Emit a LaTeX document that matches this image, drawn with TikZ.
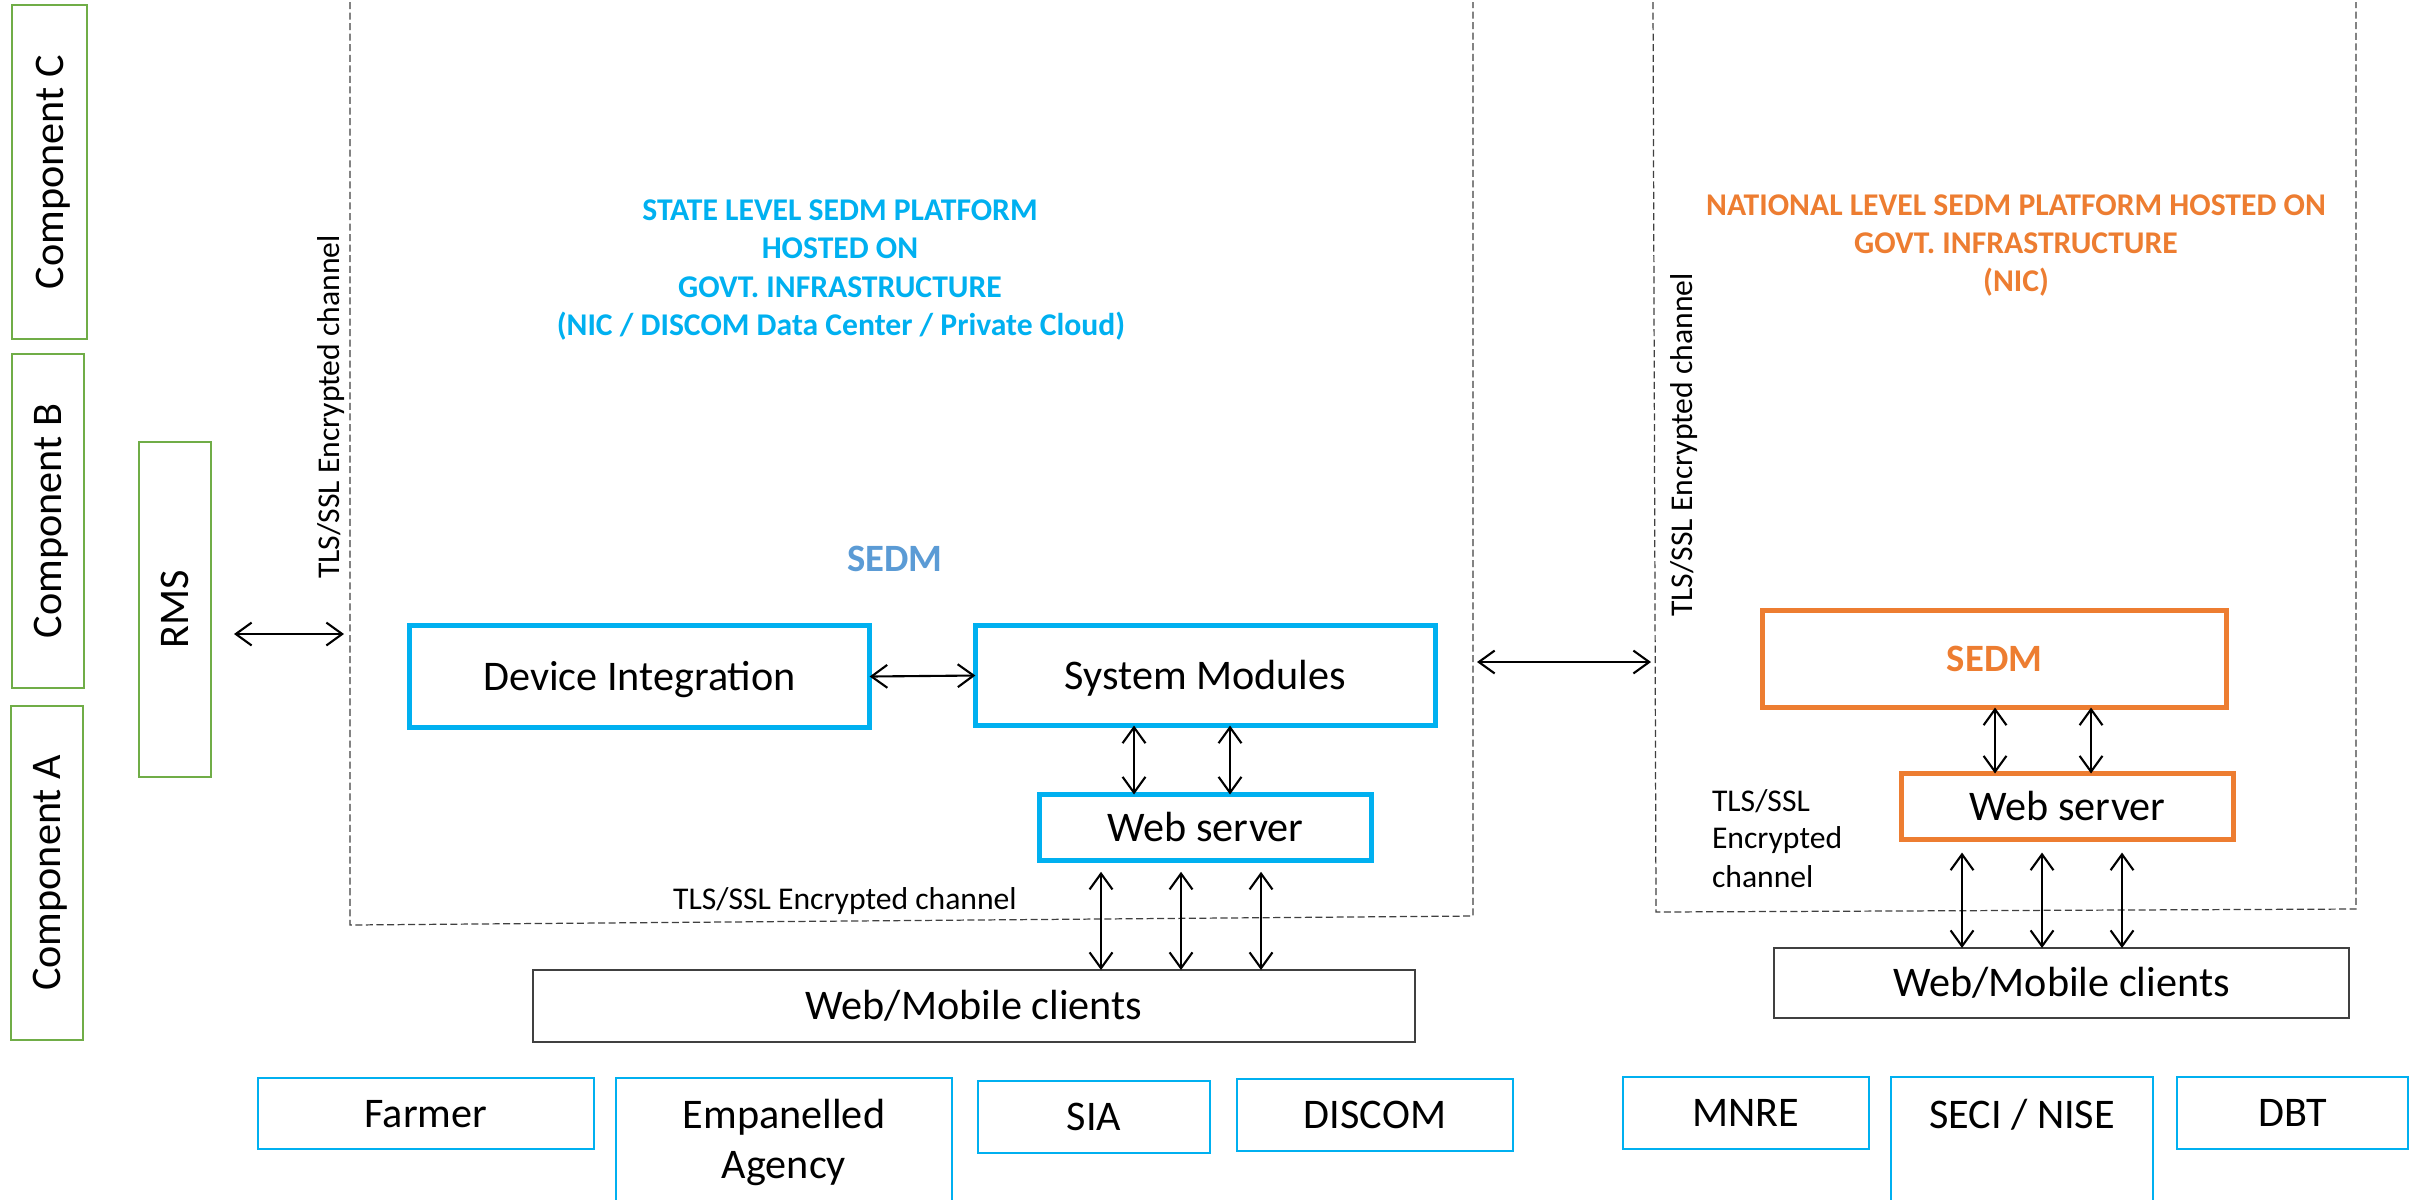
\documentclass[tikz,border=0pt]{standalone}
\usepackage{fontspec}
\setmainfont{Carlito}
\usetikzlibrary{arrows.meta}
\definecolor{cyanb}{HTML}{00B0F0}
\definecolor{orng}{HTML}{ED7D31}
\definecolor{grn}{HTML}{70AD47}
\definecolor{sedmb}{HTML}{5B9BD5}
\definecolor{dgray}{HTML}{404040}
\begin{document}
\begin{tikzpicture}[x=0.01cm,y=-0.01cm,
 every node/.style={inner sep=0pt, outer sep=0pt},
 txt12/.style={font=\fontsize{12}{14.4}\selectfont},
 fs12/.style={font=\fontsize{12}{14.4}\selectfont, text height=7.7pt, text depth=0pt},
 fs9/.style={font=\fontsize{9}{10.8}\selectfont},
 compbox/.style={draw=grn, line width=0.75pt, fs12, rotate=90},
 thickbox/.style={draw=cyanb, line width=1.4pt, fs12},
 obox/.style={draw=orng, line width=1.4pt, fs12},
 thinbox/.style={draw=cyanb, line width=0.6pt, fs12},
 clientbox/.style={draw=dgray, line width=0.6pt, fs12},
 biarrow/.style={line width=0.6pt, {Straight Barb[length=4.5pt,width=6.5pt]}-{Straight Barb[length=4.5pt,width=6.5pt]}},
 zone/.style={draw=black!75, line width=0.35pt, dash pattern=on 2pt off 1pt},
 ttl/.style={font=\fontsize{9}{10.8}\selectfont\bfseries, anchor=base},
]
\useasboundingbox (0,0) rectangle (2425,1199);

% component column
\node[compbox, minimum width=3.34cm, minimum height=0.75cm] (compC) at (49.5,172) {Component C};
\node[compbox, minimum width=3.34cm, minimum height=0.72cm] (compB) at (48,521) {Component B};
\node[compbox, minimum width=3.34cm, minimum height=0.72cm] (compA) at (47,873) {Component A};
\node[compbox, minimum width=3.35cm, minimum height=0.72cm] (rms) at (175,609.5) {RMS};

% zones
\draw[zone] (350,2) -- (350,925) -- (1473,916) -- (1473,2);
\draw[zone] (1653,2) -- (1656,912) -- (2356,909) -- (2356,2);

% state titles
\node[ttl, text=cyanb] (st1) at (840,220) {STATE LEVEL SEDM PLATFORM};
\node[ttl, text=cyanb] (st2) at (840,258) {HOSTED ON};
\node[ttl, text=cyanb] (st3) at (840,297) {GOVT. INFRASTRUCTURE};
\node[ttl, text=cyanb] (st4) at (841,335) {(NIC / DISCOM Data Center / Private Cloud)};
\node[font=\fontsize{11}{13}\selectfont\bfseries, text=sedmb, anchor=base] (sedmL) at (895,571) {SEDM};

% national titles
\node[ttl, text=orng] (nt1) at (2016,215) {NATIONAL LEVEL SEDM PLATFORM HOSTED ON};
\node[ttl, text=orng] (nt2) at (2016,253) {GOVT. INFRASTRUCTURE};
\node[ttl, text=orng] (nt3) at (2016,291) {(NIC)};

% TLS labels
\node[fs9, rotate=90, anchor=base] (tlsL) at (339,407) {TLS/SSL Encrypted channel};
\node[fs9, rotate=90, anchor=base] (tlsR) at (1692,445) {TLS/SSL Encrypted channel};
\node[fs9, anchor=base] (tlsB) at (845,909) {TLS/SSL Encrypted channel};
\node[fs9, anchor=base west] (tlsR1) at (1712,811) {TLS/SSL};
\node[fs9, anchor=base west] (tlsR2) at (1712,848) {Encrypted};
\node[fs9, anchor=base west] (tlsR3) at (1712,887) {channel};

% state boxes
\node[thickbox, minimum width=4.60cm, minimum height=1.02cm] (di) at (639.5,676.5) {Device Integration};
\node[thickbox, minimum width=4.60cm, minimum height=1.00cm] (sm) at (1205.5,675.5) {System Modules};
\node[thickbox, minimum width=3.32cm, minimum height=0.66cm] (ws) at (1205.5,827.5) {Web server};
\node[clientbox, minimum width=8.82cm, minimum height=0.72cm] (wmc) at (974,1006) {Web/Mobile clients};

% national boxes
\node[obox, minimum width=4.64cm, minimum height=0.97cm, text=orng, font=\fontsize{11}{13}\selectfont\bfseries, text height=7.1pt] (sedmR) at (1994.5,659) {SEDM};
\node[obox, minimum width=3.32cm, minimum height=0.66cm] (wsR) at (2067.5,806.5) {Web server};
\node[clientbox, minimum width=5.75cm, minimum height=0.70cm] (wmcR) at (2061.5,983) {Web/Mobile clients};

% stakeholder boxes
\node[thinbox, minimum width=3.36cm, minimum height=0.71cm] (farmer) at (426,1113.5) {Farmer};
\node[thinbox, minimum width=3.36cm, minimum height=1.50cm] (emp) at (784,1153) {};
\node[txt12, anchor=base] (empT1) at (784,1128) {Empanelled};
\node[txt12, anchor=base] (empT2) at (784,1178) {Agency};
\node[thinbox, minimum width=2.32cm, minimum height=0.72cm] (sia) at (1094,1117) {SIA};
\node[thinbox, minimum width=2.76cm, minimum height=0.72cm] (discom) at (1375,1115) {DISCOM};
\node[thinbox, minimum width=2.46cm, minimum height=0.72cm] (mnre) at (1746,1113) {MNRE};
\node[thinbox, minimum width=2.62cm, minimum height=1.50cm] (seci) at (2022,1152) {};
\node[txt12, anchor=base] (seciT) at (2022,1128) {SECI / NISE};
\node[thinbox, minimum width=2.31cm, minimum height=0.72cm] (dbt) at (2292.5,1113) {DBT};

% connector end points on the zone borders
\coordinate (rmsR) at (234,634);
\coordinate (zoneL) at (344,634);
\coordinate (zone1R) at (1477,662);
\coordinate (zone2L) at (1651,662);

% connectors
\draw[biarrow] (rmsR) -- (zoneL);
\draw[biarrow] (zone1R) -- (zone2L);
\draw[biarrow] (di.east) -- (sm.west);
\foreach \xx in {1134,1230} \draw[biarrow] (sm.south -| \xx,0) -- (ws.north -| \xx,0);
\foreach \xx in {1101,1181,1261} \draw[biarrow, shorten <=3.2pt] (ws.south -| \xx,0) -- (wmc.north -| \xx,0);
\foreach \xx in {1995,2091} \draw[biarrow] (sedmR.south -| \xx,0) -- (wsR.north -| \xx,0);
\foreach \xx in {1962,2042,2122} \draw[biarrow, shorten <=3.7pt] (wsR.south -| \xx,0) -- (wmcR.north -| \xx,0);
\end{tikzpicture}
\end{document}
